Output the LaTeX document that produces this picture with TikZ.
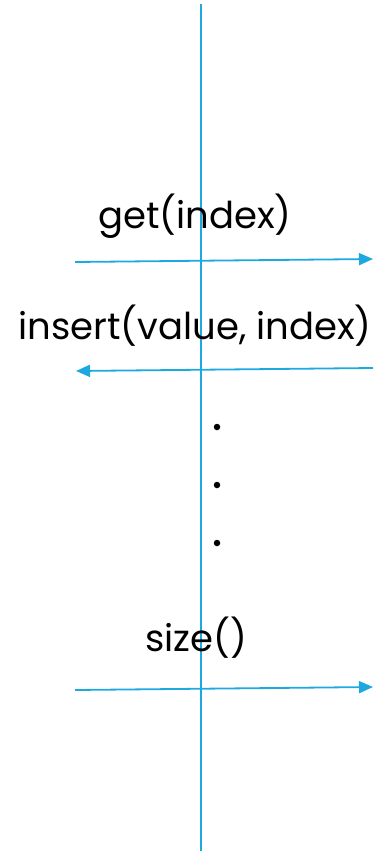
\documentclass[tikz,border=0pt]{standalone}
\usepackage{fontspec}
\setmainfont{Poppins}
\usetikzlibrary{arrows.meta}
\definecolor{lineblue}{RGB}{30,168,224}
\begin{document}
\begin{tikzpicture}[x=1pt,y=-1pt,
  msg/.style={draw=lineblue,line width=1.8pt,-{Triangle[length=14pt,width=12pt]}},
  lifeline/.style={draw=lineblue,line width=1.8pt},
  label/.style={anchor=base,inner sep=0pt,font=\fontsize{37}{40}\selectfont},
  dotmark/.style={circle,fill=black,inner sep=0pt,minimum size=6.5pt}]
\useasboundingbox (0,0) rectangle (375,851);
\coordinate (ltop) at (201,4);
\coordinate (lbot) at (201,851);
\draw[lifeline] (ltop) -- (lbot);
\node[label] (get) at (195,228) {get(index)};
\node[label] (ins) at (195,339) {insert(value, index)};
\node[label] (sz) at (196,651) {size()};
\coordinate (g1) at (75,262);
\coordinate (g2) at (373,259);
\coordinate (i1) at (373,368);
\coordinate (i2) at (76,371);
\coordinate (s1) at (75,690);
\coordinate (s2) at (373,687);
\draw[msg] (g1) -- (g2);
\draw[msg] (i1) -- (i2);
\draw[msg] (s1) -- (s2);
\node[dotmark] (d1) at (217,427) {};
\node[dotmark] (d2) at (217,485) {};
\node[dotmark] (d3) at (217,543) {};
\end{tikzpicture}
\end{document}
